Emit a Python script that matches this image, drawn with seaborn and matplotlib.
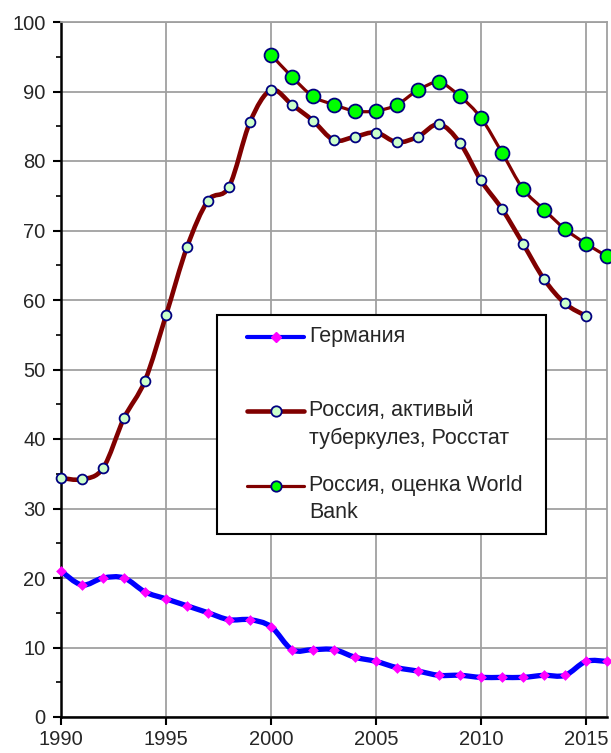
import numpy as np
import pandas as pd
import matplotlib
matplotlib.use("Agg")
import matplotlib.pyplot as plt
from matplotlib.path import Path
from matplotlib.patches import PathPatch
from matplotlib.lines import Line2D
from matplotlib.legend_handler import HandlerLine2D
from matplotlib.transforms import Affine2D
from matplotlib.ticker import MultipleLocator
import seaborn as sns

# данные (оценка по картинке)
years_de = list(range(1990, 2017))
germany = [21, 19, 20, 20, 18, 17, 16, 15, 14, 14, 13, 9.7, 9.7, 9.7, 8.6, 8.0,
           7.1, 6.6, 6.0, 6.0, 5.7, 5.7, 5.7, 6.0, 6.0, 8.0, 8.0]

years_rs = list(range(1990, 2016))
rosstat = [34.4, 34.2, 35.8, 43.0, 48.4, 57.8, 67.6, 74.3, 76.3, 85.6, 90.2, 88.1,
           85.8, 83.0, 83.5, 84.1, 82.7, 83.5, 85.3, 82.6, 77.2, 73.1, 68.1, 63.0,
           59.5, 57.7]

years_wb = list(range(2000, 2017))
worldbank = [95.3, 92.1, 89.3, 88.1, 87.2, 87.2, 88.1, 90.2, 91.3, 89.3, 86.2, 81.2,
             76.0, 73.0, 70.2, 68.1, 66.3]

labels = ["Германия\n ", "Россия, активый\nтуберкулез, Росстат",
          "Россия, оценка World  \nBank"]


def smooth_path(x, y):
    # сглаженная линия как в Excel (кривые Безье через точки)
    p = np.column_stack([x, y]).astype(float)
    n = len(p)
    verts = [p[0]]
    codes = [Path.MOVETO]
    for i in range(n - 1):
        p0 = p[i - 1] if i > 0 else p[i]
        p3 = p[i + 2] if i + 2 < n else p[i + 1]
        c1 = p[i] + (p[i + 1] - p0) / 6
        c2 = p[i + 1] - (p3 - p[i]) / 6
        verts += [c1, c2, p[i + 1]]
        codes += [Path.CURVE4] * 3
    return Path(verts, codes)


class FirstLineHandler(HandlerLine2D):
    # значок легенды на уровне первой строки подписи, с отступом слева
    def __init__(self, lead, dy, **kw):
        super().__init__(**kw)
        self.lead = lead
        self.dy = dy

    def create_artists(self, legend, orig_handle, xdescent, ydescent, width,
                       height, fontsize, trans):
        arts = super().create_artists(legend, orig_handle, xdescent - self.lead,
                                      ydescent, width - self.lead, height,
                                      fontsize, trans)
        shift = Affine2D().translate(0, self.dy) + trans
        for a in arts:
            a.set_transform(shift)
        return arts


sns.set_style("white")
plt.rcParams["font.family"] = ["Liberation Sans", "DejaVu Sans"]

fig = plt.figure(figsize=(6.11, 7.53), dpi=100)
ax = fig.add_axes([61 / 611, 1 - 717 / 753, (607 - 61) / 611, (717 - 22) / 753])

df_de = pd.DataFrame({"year": years_de, "value": germany})
df_rs = pd.DataFrame({"year": years_rs, "value": rosstat})
df_wb = pd.DataFrame({"year": years_wb, "value": worldbank})

ax.add_patch(PathPatch(smooth_path(df_de.year, df_de.value), fill=False,
                       edgecolor="#0000FF", lw=3.8, zorder=3, capstyle="round"))
ax.add_patch(PathPatch(smooth_path(df_rs.year, df_rs.value), fill=False,
                       edgecolor="#800000", lw=3.3, zorder=3, capstyle="round"))
ax.add_patch(PathPatch(smooth_path(df_wb.year, df_wb.value), fill=False,
                       edgecolor="#800000", lw=2.3, zorder=3, capstyle="round"))

sns.scatterplot(data=df_de, x="year", y="value", ax=ax, marker="D", s=30,
                color="#FF00FF", edgecolor="#FF00FF", linewidth=0, zorder=4,
                clip_on=False)
sns.scatterplot(data=df_rs, x="year", y="value", ax=ax, marker="o", s=50,
                color="#CCFFCC", edgecolor="#000080", linewidth=1.3, zorder=4,
                clip_on=False)
sns.scatterplot(data=df_wb, x="year", y="value", ax=ax, marker="o", s=100,
                color="#00FF00", edgecolor="#000080", linewidth=1.3, zorder=4,
                clip_on=False)

ax.set_xlim(1990, 2016)
ax.set_ylim(0, 100)
ax.xaxis.set_major_locator(MultipleLocator(5))
ax.yaxis.set_major_locator(MultipleLocator(10))
ax.yaxis.set_minor_locator(MultipleLocator(5))
ax.grid(True, which="major", color="#A0A0A0", lw=1.3)
ax.set_xlabel("")
ax.set_ylabel("")
ax.tick_params(axis="both", which="major", labelsize=14.5, direction="out",
               length=6, width=1.5, color="black", left=True, bottom=True)
ax.tick_params(axis="y", which="major", pad=5)
ax.tick_params(axis="x", which="major", pad=3.5)
ax.tick_params(axis="y", which="minor", direction="out", length=3.5, width=1.2,
               color="black", left=True)

for side in ["top", "right"]:
    ax.spines[side].set_color("#A0A0A0")
    ax.spines[side].set_linewidth(1.3)
for side in ["left", "bottom"]:
    ax.spines[side].set_color("black")
    ax.spines[side].set_linewidth(1.8)

handles = [
    Line2D([], [], color="#0000FF", lw=3.0, marker="D", markersize=5,
           markerfacecolor="#FF00FF", markeredgecolor="#FF00FF"),
    Line2D([], [], color="#800000", lw=3.3, marker="o", markersize=7.5,
           markerfacecolor="#CCFFCC", markeredgecolor="#000080", markeredgewidth=1.3),
    Line2D([], [], color="#800000", lw=2.3, marker="o", markersize=7.5,
           markerfacecolor="#00FF00", markeredgecolor="#000080", markeredgewidth=1.3),
]
fs = 15.5
hmap = {h: FirstLineHandler(lead=14, dy=9.7) for h in handles}
leg = ax.legend(handles, labels, handler_map=hmap, loc="upper left",
                bbox_to_anchor=(217 / 611, 1 - 315 / 753),
                bbox_transform=fig.transFigure, borderaxespad=0,
                fontsize=fs, frameon=True, fancybox=False, framealpha=1,
                edgecolor="black", handlelength=3.55, handletextpad=0.23,
                labelspacing=1.2, borderpad=0.5)
leg.get_frame().set_linewidth(1.5)
leg.set_zorder(5)
for t in leg.get_texts():
    t.set_linespacing(1.4)

fig.savefig("out.png", dpi=100)
